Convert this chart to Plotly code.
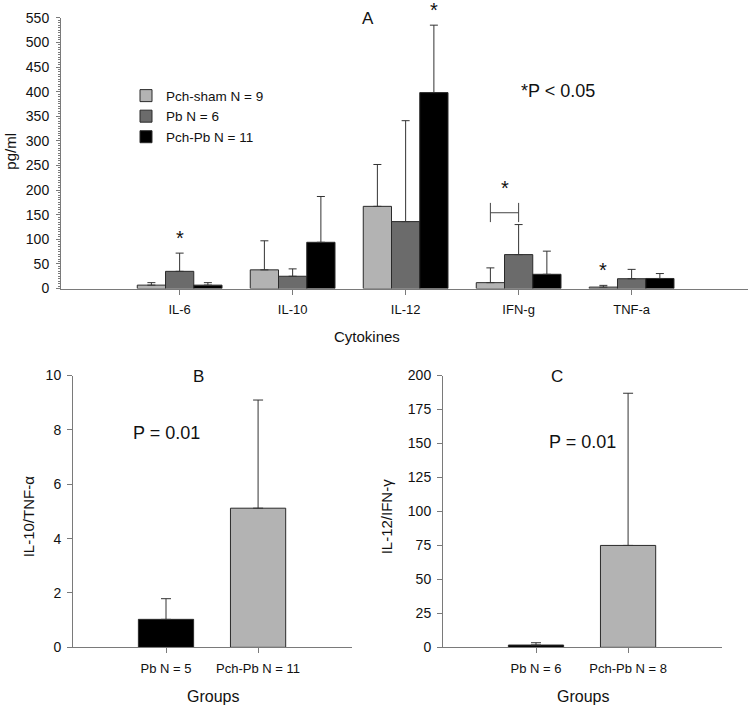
import plotly.graph_objects as go

# ---------------- data ----------------
cytokines = ["IL-6", "IL-10", "IL-12", "IFN-g", "TNF-a"]
sham_mean = [7, 38, 167, 12, 3]
sham_err = [5, 59, 85, 30, 3.5]
pb_mean = [35, 25, 136, 69, 20]
pb_err = [37, 15, 205, 61, 19]
pchpb_mean = [7, 94, 398, 29, 20.5]
pchpb_err = [5, 93, 137, 47, 10]
series_names = ["Pch-sham N = 9", "Pb N = 6", "Pch-Pb N = 11"]

groups_b = ["Pb N = 5", "Pch-Pb N = 11"]
ratio_b = [1.03, 5.12]
ratio_b_err = [0.76, 3.98]

groups_c = ["Pb N = 6", "Pch-Pb N = 8"]
ratio_c = [1.7, 75]
ratio_c_err = [1.7, 112]

# significance stars for panel A: (category index, series index)
stars_a = [(0, 1), (2, 2), (4, 0)]
# IFN-g bracket between Pch-sham and Pb: category, y of line, y low, y high
bracket_ifn = (3, 154, 135, 174)

# ---------------- style ----------------
LIGHT = "#b3b3b3"
DARK = "#6b6b6b"
BLACK = "#000000"
EDGE = "#2a2a2a"
AXC = "#7a7a7a"
FONT = "Arial, Liberation Sans, sans-serif"

means = [sham_mean, pb_mean, pchpb_mean]
errs = [sham_err, pb_err, pchpb_err]
offsets = [-0.25, 0.0, 0.25]

fig = go.Figure()
xs = list(range(len(cytokines)))
for name, mean, err, col in zip(series_names, means, errs, [LIGHT, DARK, BLACK]):
    fig.add_trace(go.Bar(
        x=xs, y=mean, name=name, xaxis="x", yaxis="y",
        marker=dict(color=col, line=dict(color=EDGE, width=1)),
        error_y=dict(type="data", array=err, arrayminus=[0] * len(err), symmetric=False,
                     color="#333333", thickness=1, width=4),
    ))

fig.add_trace(go.Bar(
    x=[0, 1], y=ratio_b, xaxis="x2", yaxis="y2", showlegend=False, width=0.6,
    marker=dict(color=[BLACK, LIGHT], line=dict(color=EDGE, width=1)),
    error_y=dict(type="data", array=ratio_b_err, arrayminus=[0, 0], symmetric=False,
                 color="#333333", thickness=1, width=5),
))
fig.add_trace(go.Bar(
    x=[0, 1], y=ratio_c, xaxis="x3", yaxis="y3", showlegend=False, width=0.6,
    marker=dict(color=[BLACK, LIGHT], line=dict(color=EDGE, width=1)),
    error_y=dict(type="data", array=ratio_c_err, arrayminus=[0, 0], symmetric=False,
                 color="#333333", thickness=1, width=5),
))

W, H = 750, 714
def px(x):
    return x / W
def py(y):
    return 1 - y / H

axis_common = dict(showline=True, linecolor=AXC, linewidth=1, showgrid=False, zeroline=False,
                   ticks="outside", tickcolor=AXC)
xtf = dict(family=FONT, size=13, color="#111")
ytf = dict(family=FONT, size=14, color="#111")

fig.update_layout(
    width=W, height=H, margin=dict(l=0, r=0, t=0, b=0),
    plot_bgcolor="white", paper_bgcolor="white",
    barmode="group", bargap=0.25, bargroupgap=0,
    font=dict(family=FONT, color="#111"),
    xaxis=dict(domain=[px(61), px(748)], anchor="y", range=[-1.05, 5.03],
               tickvals=xs, ticktext=cytokines, ticklen=5, ticklabelstandoff=4,
               tickfont=xtf, **axis_common),
    yaxis=dict(domain=[py(287), py(10)], anchor="x", range=[0, 550], dtick=50, ticklen=4,
               minor=dict(dtick=5, ticks="outside", ticklen=2, tickcolor=AXC),
               ticklabelstandoff=4, tickfont=ytf, **axis_common),
    xaxis2=dict(domain=[px(73), px(352)], anchor="y2", range=[-1.01, 2.02],
                tickvals=[0, 1], ticktext=groups_b, ticklen=5, ticklabelstandoff=4,
                tickfont=xtf, **axis_common),
    yaxis2=dict(domain=[py(654), py(376)], anchor="x2", range=[0, 10], dtick=2, ticklen=5,
                ticklabelstandoff=3, tickfont=ytf, **axis_common),
    xaxis3=dict(domain=[px(443), px(722)], anchor="y3", range=[-1.01, 2.02],
                tickvals=[0, 1], ticktext=groups_c, ticklen=5, ticklabelstandoff=4,
                tickfont=xtf, **axis_common),
    yaxis3=dict(domain=[py(654), py(376)], anchor="x3", range=[0, 200], dtick=25, ticklen=5,
                ticklabelstandoff=3, tickfont=ytf, **axis_common),
    legend=dict(x=px(126), y=py(74), xanchor="left", yanchor="top",
                font=dict(family=FONT, size=13.5, color="#111"), bgcolor="rgba(0,0,0,0)",
                tracegroupgap=0, itemwidth=30),
)

anns = []
def txt(x, y, t, size, xref="paper", yref="paper", angle=0, **kw):
    anns.append(dict(x=x, y=y, xref=xref, yref=yref, text=t, showarrow=False, textangle=angle,
                     xanchor="center", yanchor="middle",
                     font=dict(family=FONT, size=size, color="#111"), **kw))

# panel labels and titles
txt(px(368), py(11), "A", 17)
txt(px(198), py(377), "B", 17)
txt(px(557), py(377), "C", 17)
txt(px(11), py(147), "pg/ml", 15, angle=-90)
txt(px(367), py(336), "Cytokines", 15)
txt(px(28), py(520), "IL-10/TNF-α", 15, angle=-90)
txt(px(213), py(704), "Groups", 16)
txt(px(386), py(520), "IL-12/IFN-γ", 15, angle=-90)
txt(px(583), py(704), "Groups", 16)
txt(px(558), py(85), "*P < 0.05", 18)
txt(0, 7.9, "P = 0.01", 18, xref="x2", yref="y2")
txt(0.5, 151, "P = 0.01", 18, xref="x3", yref="y3")

for cat, s in stars_a:
    txt(cat + offsets[s], means[s][cat] + errs[s][cat], "*", 20, xref="x", yref="y", yshift=15)

cat, yl, y0, y1 = bracket_ifn
xl, xr = cat + offsets[0], cat + offsets[1]
txt((xl + xr) / 2, y1, "*", 20, xref="x", yref="y", yshift=15)
shapes = [
    dict(type="line", xref="x", yref="y", x0=xl, x1=xr, y0=yl, y1=yl,
         line=dict(color="#444", width=1)),
    dict(type="line", xref="x", yref="y", x0=xl, x1=xl, y0=y0, y1=y1,
         line=dict(color="#444", width=1)),
    dict(type="line", xref="x", yref="y", x0=xr, x1=xr, y0=y0, y1=y1,
         line=dict(color="#444", width=1)),
]
fig.update_layout(annotations=anns, shapes=shapes)

fig.write_html("out.html", config={"displayModeBar": False},
               post_script="document.body.style.margin='0';document.body.style.padding='0';")
